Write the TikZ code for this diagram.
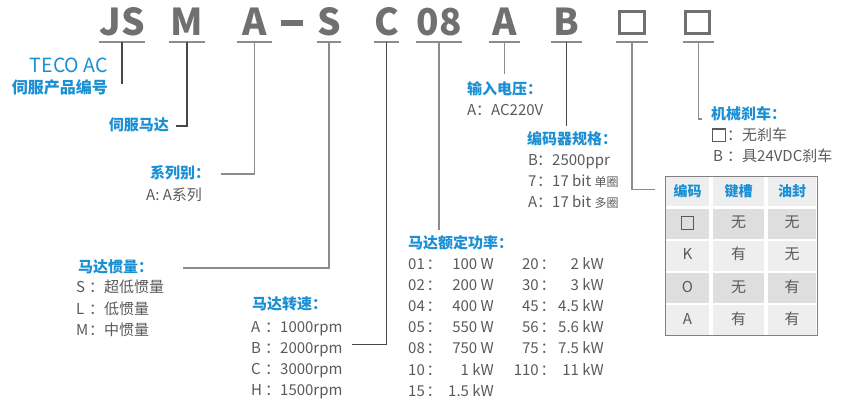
\documentclass[tikz,border=0pt]{standalone}
\usepackage{fontspec}
\setmainfont{Noto Sans CJK SC}
\usepackage{tikz}
\usetikzlibrary{positioning}

\definecolor{codegray}{HTML}{707070}
\definecolor{ulgray}{HTML}{8C8C8C}
\definecolor{teco}{HTML}{1B8FD3}
\definecolor{txtgray}{HTML}{5A5A5A}
\definecolor{celldark}{HTML}{DEDEDE}
\definecolor{celllight}{HTML}{EEEEEE}

\newcommand{\keyw}[2][13pt]{\makebox[#1][l]{#2}}
\newcommand{\emptysq}{{\setlength{\fboxsep}{0pt}\setlength{\fboxrule}{1.1pt}%
  \raisebox{-1pt}{\fbox{\rule{0pt}{11.5pt}\hspace{11.5pt}}}}}

\tikzset{
  codeltr/.style={font=\fontsize{37}{37}\selectfont\bfseries, text=codegray,
    inner sep=0pt, minimum height=40pt},
  uline/.style={draw=ulgray, line width=2pt},
  sqmark/.style={draw=codegray, line width=3.3pt, inner sep=0pt,
    minimum width=24.5pt, minimum height=21.5pt},
  leaddark/.style={draw=black!72, line width=1.1pt},
  leadlight/.style={draw=black!45, line width=1.4pt},
  head/.style={font=\fontsize{15}{18}\selectfont\bfseries, text=teco,
    inner sep=0pt, text height=12pt, text depth=3pt},
  item/.style={font=\fontsize{15}{18}\selectfont, text=txtgray,
    inner sep=0pt, text height=11pt, text depth=3pt},
  cell/.style={inner sep=0pt, minimum height=30pt},
  thead/.style={cell, font=\fontsize{14}{16}\selectfont\bfseries, text=teco,
    fill=celllight, minimum height=29pt}
}

\begin{document}
\begin{tikzpicture}[x=1pt, y=-1pt]
  \useasboundingbox (0,0) rectangle (845,402);

  % model code
  \foreach \n/\t/\x/\w in {JS/JS/122/36, M/M/187/36, A/A/254.5/35, S/S/329/24,
      C/C/386.5/23, 08/08/439/46, V/A/504.5/31, B/B/566.5/31, Q1//632/32, Q2//698.5/31} {
    \node[codeltr, minimum width=\w] (c\n) at (\x,22) {\t};
    \draw[uline] (c\n.south west) -- (c\n.south east);
  }
  \fill[codegray] (281,20) rectangle (303,26);
  \node[sqmark] (sQ1) at (632,22.5) {};
  \node[sqmark] (sQ2) at (697.5,22.5) {};

  % product / motor
  \node[head, anchor=east, font=\fontsize{19.5}{20}\selectfont] (tecoL) at (108,68) {TECO AC};
  \node[head, anchor=east, font=\fontsize{16}{18}\selectfont\bfseries] (tecoH) at (108,89) {伺服产品编号};
  \node[head, anchor=east] (srvL) at (169,126) {伺服马达};

  % series
  \node[head, anchor=west] (serH) at (150,174) {系列别：};
  \node[item, anchor=west] (serT) at (146,196) {A: A系列};

  % inertia
  \node[head, anchor=west] (inH) at (78,268) {马达惯量：};
  \foreach \k/\v [count=\i] in {S/超低惯量, L/低惯量, M/中惯量}
    \node[item, anchor=west] (in\i) at (76,267+21.5*\i) {\keyw{\k}：\v};

  % speed
  \node[head, anchor=west] (spH) at (252,305) {马达转速：};
  \foreach \k/\v [count=\i] in {A/1000rpm, B/2000rpm, C/3000rpm, H/1500rpm}
    \node[item, anchor=west] (sp\i) at (251,306.8+21.2*\i) {\keyw[14pt]{\k}：\v};

  % rated power
  \node[head, anchor=west] (pwH) at (408,244) {马达额定功率：};
  \foreach \k/\v [count=\i] in {01/100 W, 02/200 W, 04/400 W, 05/550 W, 08/750 W, 10/1 kW, 15/1.5 kW} {
    \node[item, anchor=west] (pk\i) at (408,243.8+21.2*\i) {\k};
    \node[item] (pc\i) at (434,243.8+21.2*\i) {：};
    \node[item, anchor=east] (pv\i) at (494,243.8+21.2*\i) {\v};
  }
  \foreach \k/\v [count=\i] in {20/2 kW, 30/3 kW, 45/4.5 kW, 56/5.6 kW, 75/7.5 kW, 110/11 kW} {
    \node[item, anchor=east] (qk\i) at (539,243.8+21.2*\i) {\k};
    \node[item] (qc\i) at (548,243.8+21.2*\i) {：};
    \node[item, anchor=east] (qv\i) at (604,243.8+21.2*\i) {\v};
  }

  % voltage
  \node[head, anchor=west] (vH) at (467,90) {输入电压：};
  \node[item, anchor=west] (vT) at (467,111.5) {\keyw[9pt]{A}：AC220V};

  % encoder
  \node[head, anchor=west] (eH) at (527,140) {编码器规格：};
  \foreach \k/\v [count=\i] in {B/2500ppr, 7/17 bit {\fontsize{12}{14}\selectfont 单圈}, A/17 bit {\fontsize{12}{14}\selectfont 多圈}}
    \node[item, anchor=west] (en\i) at (528,140.3+21.2*\i) {\keyw[9pt]{\k}：\v};

  % brake
  \node[head, anchor=west] (bH) at (711,115) {机械刹车：};
  \node[item, anchor=west] (br1) at (712,136) {\keyw[15pt]{\emptysq}：无刹车};
  \node[item, anchor=west] (br2) at (713,157) {\keyw[14pt]{B}：具24VDC刹车};

  % option table
  \node[thead, minimum width=43pt] (h1) at (687.5,191.5) {编码};
  \node[thead, minimum width=51pt] (h2) at (738.5,191.5) {键槽};
  \node[thead, minimum width=48pt] (h3) at (792,191.5) {油封};
  \foreach \a/\b/\c/\f [count=\r] in {\emptysq/无/无/celldark, K/有/无/celllight,
      O/无/有/celldark, A/有/有/celllight} {
    \node[cell, item, fill=\f, minimum width=43pt, minimum height=30pt] (r\r-1) at (687.5,191.5+32.2*\r) {\a};
    \node[cell, item, fill=\f, minimum width=51pt, minimum height=30pt] (r\r-2) at (738.5,191.5+32.2*\r) {\b};
    \node[cell, item, fill=\f, minimum width=48pt, minimum height=30pt] (r\r-3) at (792,191.5+32.2*\r) {\c};
  }
  \draw[draw=black!50, line width=0.8pt] (h1.north west) rectangle ([xshift=1pt]r4-3.south east);

  % connectors
  \draw[leaddark] (cJS.south) -- ++(0,42);
  \draw[leaddark] (cM.south) |- ([xshift=7pt]srvL.east);
  \draw[leadlight] (cA.south) |- ([xshift=11pt]serH.east);
  \draw[leadlight] (cS.south) |- ([xshift=30pt]inH.east);
  \draw[leaddark] (cC.south) |- ([xshift=9pt,yshift=5pt]sp2.east);
  \draw[leadlight] (c08.south) -- ([yshift=6.5pt]c08.south |- pwH.north);
  \draw[leadlight] (cV.south) -- ([yshift=8.5pt]cV.south |- vH.north);
  \draw[leaddark] (cB.south) -- ([yshift=6pt]cB.south |- eH.north);
  \draw[leadlight] (cQ1.south) |- ([xshift=-11pt,yshift=2pt]h1.west);
  \draw[leadlight] (cQ2.south) |- ([xshift=-9pt,yshift=-4pt]bH.west);
\end{tikzpicture}
\end{document}
